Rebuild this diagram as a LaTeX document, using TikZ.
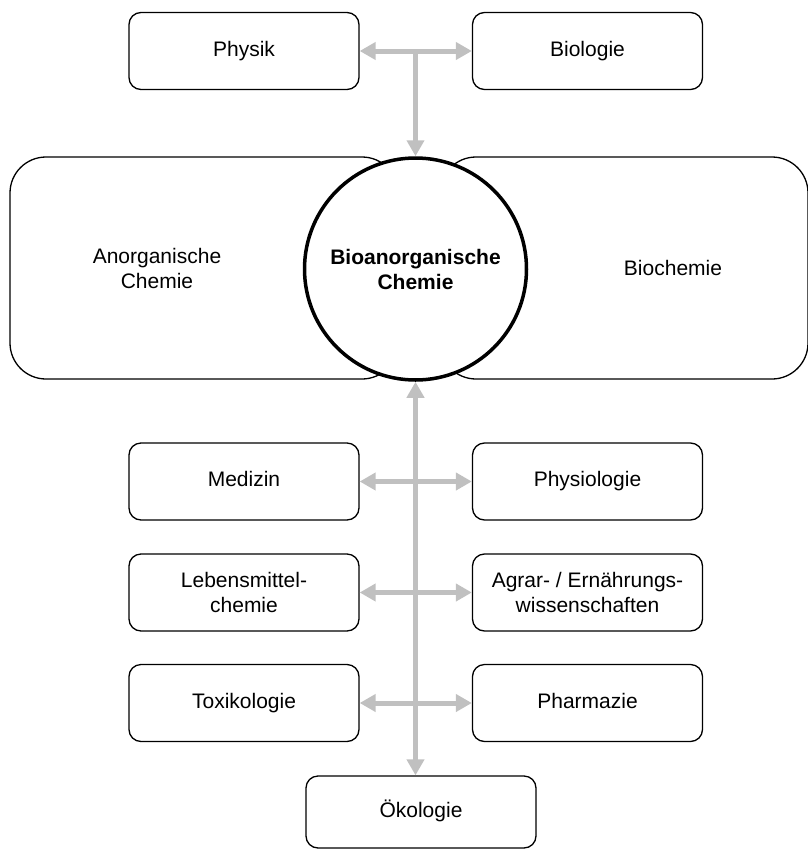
\documentclass[tikz,border=0pt]{standalone}
\usepackage{fontspec}
\setmainfont{Liberation Sans}
\usetikzlibrary{arrows.meta}
\definecolor{arrgrey}{RGB}{192,192,192}
\tikzset{
  box/.style={draw=black, line width=1.3pt, rounded corners=12pt, minimum width=230pt, minimum height=77pt, inner sep=0pt, align=center, font=\fontsize{21}{25}\selectfont, fill=white},
  oneline/.style={text height=15pt, text depth=4.5pt},
  bigbox/.style={draw=black, line width=1.3pt, rounded corners=36pt, minimum height=222pt, inner sep=0pt, fill=white},
  lbl/.style={align=center, font=\fontsize{21}{25}\selectfont, inner sep=0pt},
  arr/.style={draw=arrgrey, line width=5pt, arrows={-Triangle[length=16pt,width=17pt]}},
  darr/.style={draw=arrgrey, line width=5pt, arrows={Triangle[length=16pt,width=17pt]-Triangle[length=16pt,width=17pt]}}
}
\begin{document}
\begin{tikzpicture}[x=1pt,y=-1pt]
\useasboundingbox (0,0) rectangle (808,849);
% large boxes
\node[bigbox, minimum width=388pt] (anorg) at (204,268) {};
\node[bigbox, minimum width=368pt] (bioch) at (624,268) {};
\node[lbl] (anorgt) at (157,268) {Anorganische\\Chemie};
\node[lbl, oneline] (biocht) at (673,270) {Biochemie};
% circle
\node[circle, draw=black, line width=3.5pt, fill=white, minimum size=222pt, inner sep=0pt, align=center, font=\fontsize{21}{25}\selectfont\bfseries] (circ) at (415.5,269) {Bioanorganische\\Chemie};
% small boxes
\node[box, oneline] (physik) at (244,51) {Physik};
\node[box, oneline] (bio) at (587.5,51) {Biologie};
\node[box, oneline] (med) at (244,481.5) {Medizin};
\node[box, oneline] (phys) at (587.5,481.5) {Physiologie};
\node[box] (leb) at (244,592.5) {Lebensmittel-\\chemie};
\node[box] (agr) at (587.5,592.5) {Agrar- / Ernährungs-\\wissenschaften};
\node[box, oneline] (tox) at (244,703) {Toxikologie};
\node[box, oneline] (pharm) at (587.5,703) {Pharmazie};
\node[box, oneline, minimum height=72pt] (oeko) at (421,812) {Ökologie};
% connectors
\coordinate (T) at (circ.north |- physik.east);
\draw[darr] (physik.east) -- (bio.west);
\draw[arr] (T) -- (circ.north);
\draw[darr] (circ.south) -- (circ.south |- oeko.north);
\draw[darr] (med.east) -- (phys.west);
\draw[darr] (leb.east) -- (agr.west);
\draw[darr] (tox.east) -- (pharm.west);
\end{tikzpicture}
\end{document}
